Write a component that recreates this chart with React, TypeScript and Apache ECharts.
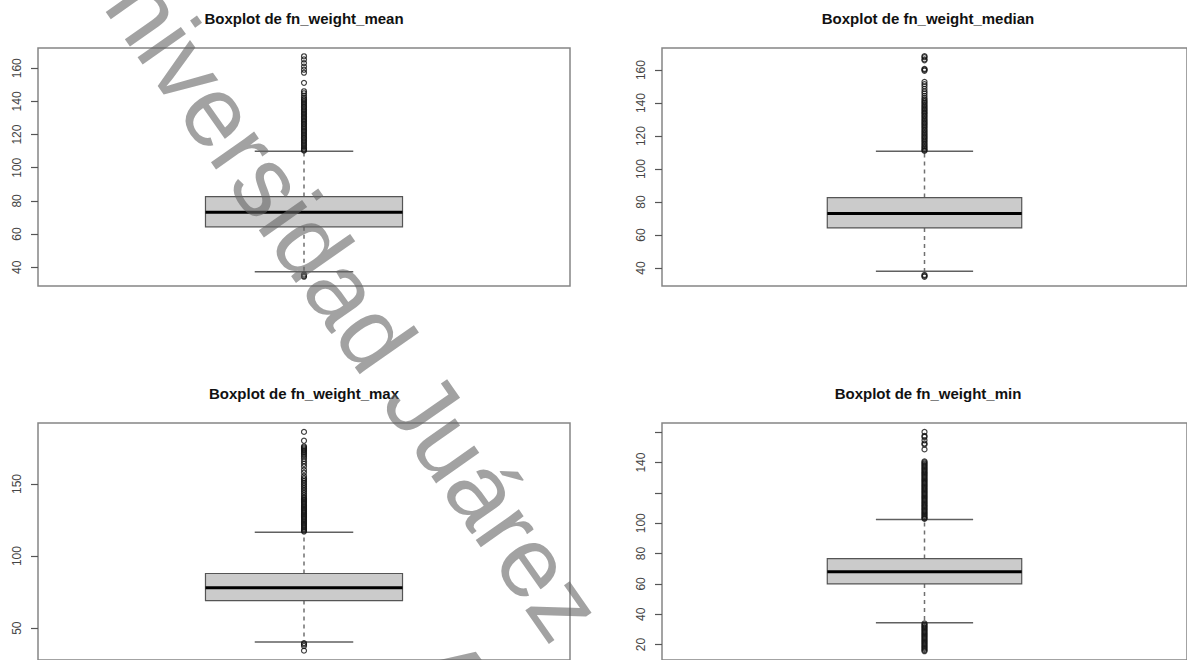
import React, { useEffect, useRef } from "react";
import * as echarts from "echarts";

// ---------- DATA ----------
const titles = [
  "Boxplot de fn_weight_mean",
  "Boxplot de fn_weight_median",
  "Boxplot de fn_weight_max",
  "Boxplot de fn_weight_min",
];

// [lower whisker, Q1, median, Q3, upper whisker]
const statsMean = [37.3, 64.4, 73.2, 82.6, 110.0];
const statsMedian = [38.0, 64.3, 73.0, 82.7, 110.8];
const statsMax = [40.4, 69.1, 78.0, 87.9, 116.5];
const statsMin = [34.4, 60.0, 68.0, 76.7, 102.4];

const outliersMean = [
  167.2, 165.3, 163.1, 161.0, 159.1, 157.3, 151.2, 146.1, 144.9, 143.5, 142.2,
  141.3, 140.4, 139.6, 138.7, 137.9, 137.0, 136.2, 135.3, 134.5, 133.6, 132.8,
  131.9, 131.1, 130.2, 129.4, 128.5, 127.7, 126.8, 126.0, 125.1, 124.3, 123.4,
  122.6, 121.7, 120.9, 120.0, 119.2, 118.3, 117.5, 116.6, 115.8, 114.9, 114.1,
  113.2, 112.4, 111.5, 110.8, 110.3, 35.6, 34.8, 34.3,
];
const outliersMedian = [
  168.4, 167.8, 166.5, 165.9, 160.7, 160.2, 159.6, 152.9, 151.5, 150.2, 148.6,
  147.1, 145.8, 144.4, 143.1, 142.0, 141.1, 140.3, 139.4, 138.6, 137.7, 136.9,
  136.0, 135.2, 134.3, 133.5, 132.6, 131.8, 130.9, 130.1, 129.2, 128.4, 127.5,
  126.7, 125.8, 125.0, 124.1, 123.3, 122.4, 121.6, 120.7, 119.9, 119.0, 118.2,
  117.3, 116.5, 115.6, 114.8, 113.9, 113.1, 112.2, 111.5, 111.0, 35.8, 35.2,
  34.7,
];
const outliersMax = [
  186.1, 180.0, 176.1, 175.3, 174.6, 173.8, 173.0, 172.1, 171.2, 170.1, 168.9,
  167.5, 165.8, 164.0, 162.1, 159.8, 157.9, 155.5, 154.0, 153.1, 151.9, 150.7,
  149.5, 148.3, 147.1, 145.9, 144.7, 143.5, 142.3, 141.1, 140.1, 139.3, 138.5,
  137.7, 136.9, 136.1, 135.3, 134.5, 133.7, 132.9, 132.1, 131.3, 130.5, 129.7,
  128.9, 128.1, 127.3, 126.5, 125.7, 124.9, 124.1, 123.3, 122.5, 121.7, 120.9,
  120.1, 119.3, 118.5, 117.7, 117.0, 39.6, 38.7, 37.6, 34.4,
];
const outliersMin = [
  160.2, 157.6, 156.9, 154.7, 152.6, 151.9, 148.7, 140.8, 140.1, 139.3, 138.5,
  137.7, 136.9, 136.1, 135.3, 134.5, 133.7, 132.9, 132.1, 131.3, 130.5, 129.7,
  128.9, 128.1, 127.3, 126.5, 125.7, 124.9, 124.1, 123.3, 122.5, 121.7, 120.9,
  120.1, 119.3, 118.5, 117.7, 116.9, 116.1, 115.3, 114.5, 113.7, 112.9, 112.1,
  111.3, 110.5, 109.7, 108.9, 108.1, 107.3, 106.5, 105.7, 104.9, 104.1, 103.4,
  102.9, 33.9, 33.1, 32.3, 31.5, 30.7, 29.9, 29.1, 28.3, 27.5, 26.7, 25.9, 25.1,
  24.3, 23.5, 22.7, 21.9, 21.1, 20.3, 19.5, 18.7, 17.9, 17.1, 16.3, 15.6,
];

const ticksMean = [40, 60, 80, 100, 120, 140, 160];
const ticksMedian = [40, 60, 80, 100, 120, 140, 160];
const ticksMax = [50, 100, 150];
const ticksMin = [20, 40, 60, 80, 100, 120, 140, 160];
const labelsMean = [40, 60, 80, 100, 120, 140, 160];
const labelsMedian = [40, 60, 80, 100, 120, 140, 160];
const labelsMax = [50, 100, 150];
const labelsMin = [20, 40, 60, 80, 100, 140];

const yRangeMean = [28.7, 172.2];
const yRangeMedian = [29.1, 173.4];
const yRangeMax = [27.9, 192.3];
const yRangeMin = [9.8, 166.1];

const watermarkLines = ["Universidad Juárez", "Autónoma de Tabasco"];

// ---------- LAYOUT / STYLE ----------
const FONT = '"Liberation Sans", Arial, Helvetica, sans-serif';
const BOX_HALF = 0.2;
const CAP_HALF = 0.1;
const X_MIN = 0.46;
const X_MAX = 1.54;
const WM_ROT = -0.9599;

export default function App() {
  const ref = useRef<HTMLDivElement>(null);

  useEffect(() => {
    if (!ref.current) return;
    const chart = echarts.init(ref.current, null, { renderer: "svg" });

    const panels = [
      { stats: statsMean, out: outliersMean, ticks: ticksMean, labels: labelsMean, range: yRangeMean },
      { stats: statsMedian, out: outliersMedian, ticks: ticksMedian, labels: labelsMedian, range: yRangeMedian },
      { stats: statsMax, out: outliersMax, ticks: ticksMax, labels: labelsMax, range: yRangeMax },
      { stats: statsMin, out: outliersMin, ticks: ticksMin, labels: labelsMin, range: yRangeMin },
    ];
    const gridBoxes = [
      { left: 38, top: 48, width: 532, height: 238 },
      { left: 662, top: 48, width: 532, height: 238 },
      { left: 38, top: 423, width: 532, height: 240 },
      { left: 662, top: 423, width: 532, height: 240 },
    ];
    const titlePos = [
      [304, 18],
      [928, 18],
      [304, 393],
      [928, 393],
    ];

    const renderBox = (params: any, api: any) => {
      const x = api.value(0);
      const lw = api.value(1);
      const q1 = api.value(2);
      const med = api.value(3);
      const q3 = api.value(4);
      const uw = api.value(5);
      const c = (xx: number, v: number) => api.coord([xx, v]);
      const tl = c(x - BOX_HALF, q3);
      const br = c(x + BOX_HALF, q1);
      const line = (a: number[], b: number[], style: any) => ({
        type: "line",
        shape: { x1: a[0], y1: a[1], x2: b[0], y2: b[1] },
        style,
      });
      const dash = { stroke: "#707070", lineWidth: 1.5, lineDash: [4, 4], fill: null };
      const cap = { stroke: "#606060", lineWidth: 1.5, fill: null };
      return {
        type: "group",
        children: [
          line(c(x, q3), c(x, uw), dash),
          line(c(x, q1), c(x, lw), dash),
          line(c(x - CAP_HALF, uw), c(x + CAP_HALF, uw), cap),
          line(c(x - CAP_HALF, lw), c(x + CAP_HALF, lw), cap),
          {
            type: "rect",
            shape: { x: tl[0], y: tl[1], width: br[0] - tl[0], height: br[1] - tl[1] },
            style: { fill: "#cbcbcb", stroke: "#555555", lineWidth: 1.2 },
          },
          line(c(x - BOX_HALF, med), c(x + BOX_HALF, med), { stroke: "#000000", lineWidth: 3, fill: null }),
        ],
      };
    };

    const option: any = {
      animation: false,
      backgroundColor: "#ffffff",
      grid: gridBoxes.map((g) => ({
        ...g,
        show: true,
        borderColor: "#858585",
        borderWidth: 1.5,
        backgroundColor: "transparent",
        containLabel: false,
      })),
      xAxis: panels.map((_, i) => ({
        type: "value",
        gridIndex: i,
        min: X_MIN,
        max: X_MAX,
        show: false,
      })),
      yAxis: panels.map((p, i) => ({
        type: "value",
        gridIndex: i,
        min: p.range[0],
        max: p.range[1],
        axisLine: { show: false },
        splitLine: { show: false },
        axisTick: {
          show: true,
          length: 7,
          lineStyle: { color: "#555555", width: 1.2 },
          customValues: p.ticks,
        },
        axisLabel: {
          show: true,
          rotate: 90,
          margin: 15,
          fontSize: 12,
          color: "#444444",
          fontFamily: FONT,
          customValues: p.labels,
        },
      })),
      series: [
        ...panels.map((p, i) => ({
          type: "custom",
          xAxisIndex: i,
          yAxisIndex: i,
          data: [[1, ...p.stats]],
          encode: { x: 0, y: [1, 2, 3, 4, 5] },
          renderItem: renderBox,
          silent: true,
          z: 2,
        })),
        ...panels.map((p, i) => ({
          type: "scatter",
          xAxisIndex: i,
          yAxisIndex: i,
          data: p.out.map((v) => [1, v]),
          symbol: "circle",
          symbolSize: 5,
          itemStyle: { color: "rgba(0,0,0,0)", borderColor: "#111111", borderWidth: 1.2 },
          silent: true,
          z: 3,
        })),
      ],
      graphic: [
        ...titles.map((t, i) => ({
          type: "text",
          x: titlePos[i][0],
          y: titlePos[i][1],
          z: 50,
          style: {
            text: t,
            font: `bold 15px ${FONT}`,
            fill: "#111111",
            align: "center",
            verticalAlign: "middle",
            textAlign: "center",
            textVerticalAlign: "middle",
          },
        })),
        {
          type: "text",
          x: 89,
          y: -73,
          rotation: WM_ROT,
          z: 100,
          silent: true,
          style: {
            text: watermarkLines[0],
            font: `100px ${FONT}`,
            fill: "rgba(100,100,100,0.6)",
            align: "left",
            verticalAlign: "middle",
            textAlign: "left",
            textVerticalAlign: "middle",
          },
        },
        {
          type: "text",
          x: 432,
          y: 648,
          rotation: WM_ROT,
          z: 100,
          silent: true,
          style: {
            text: watermarkLines[1],
            font: `100px ${FONT}`,
            fill: "rgba(100,100,100,0.6)",
            align: "left",
            verticalAlign: "middle",
            textAlign: "left",
            textVerticalAlign: "middle",
          },
        },
      ],
    };

    chart.setOption(option);
    return () => {
      chart.dispose();
    };
  }, []);

  return (
    <div
      ref={ref}
      style={{ position: "absolute", left: 0, top: 0, width: 1187, height: 660, background: "#fff" }}
    />
  );
}
